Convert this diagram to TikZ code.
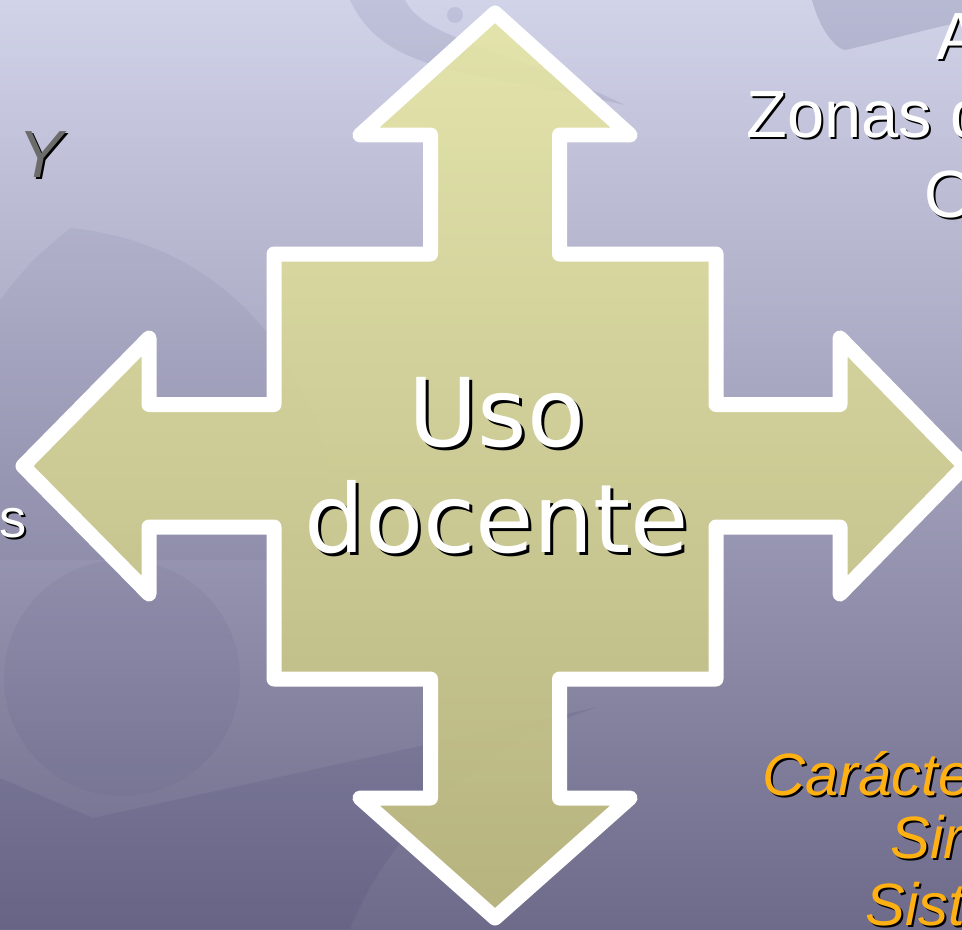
\documentclass[tikz,border=0pt]{standalone}
\usepackage{fontspec}
\setmainfont{Liberation Sans}
\newfontfamily\dejavu{DejaVu Sans}
\usepackage{tikz}
\usetikzlibrary{positioning}
\usetikzlibrary{calc}

\definecolor{bgtop}{RGB}{209,211,233}
\definecolor{bgmid}{RGB}{166,165,193}
\definecolor{bgbottom}{RGB}{110,106,138}
\definecolor{swirl}{RGB}{70,68,112}
\definecolor{crosstop}{RGB}{230,230,166}
\definecolor{crossbottom}{RGB}{190,187,126}
\definecolor{gold}{RGB}{255,176,18}
\definecolor{greyY}{RGB}{108,108,108}

\begin{document}
\begin{tikzpicture}[x=0.02cm, y=-0.02cm]
    % Styles for the slide
    \tikzstyle{cross} = [draw=white, line width=0.3cm, line join=round, top color=crosstop, bottom color=crossbottom, fill opacity=0.9, draw opacity=1]
    \tikzstyle{swoosh} = [fill=swirl, fill opacity=0.12, draw=none]
    \tikzstyle{title} = [inner sep=0pt, align=center, font=\dejavu\fontsize{54}{60.3}\selectfont]
    \tikzstyle{side} = [inner sep=0pt, font=\fontsize{38}{40}\selectfont]
    \tikzstyle{sidei} = [inner sep=0pt, font=\itshape\fontsize{34}{36}\selectfont]

    % keep the picture the size of the slide crop
    \useasboundingbox (0,0) rectangle (962,929);
    \clip (0,0) rectangle (962,929);

    % background gradient
    \shade[top color=bgtop, middle color=bgmid, bottom color=bgbottom] (0,0) rectangle (962,929);

    % background swooshes
    \fill[swoosh] (350,0) .. controls (385,75) and (470,70) .. (625,105) .. controls (500,45) and (425,40) .. (405,0) -- cycle;
    \fill[swoosh] (455,15) circle (0.16cm);
    \fill[swoosh, fill opacity=0.18] (812,0) .. controls (820,30) and (835,48) .. (845,50) .. controls (890,40) and (930,28) .. (962,22) -- (962,0) -- cycle;
    \fill[swoosh, fill opacity=0.07] (70,228) .. controls (200,240) and (300,330) .. (330,470) -- (330,560) -- (0,560) -- (0,300) .. controls (30,262) .. (70,228) -- cycle;
    \fill[swoosh, fill opacity=0.07] (122,678) circle (2.36cm);
    \fill[swoosh, fill opacity=0.15] (0,778) -- (93,818) -- (598,707) .. controls (480,745) and (390,830) .. (350,929) -- (0,929) -- cycle;

    % the four way arrow
    \path[cross] (495,13) -- (630,135) -- (559.5,135) -- (559.5,254) -- (716,254) -- (716,404.5)
        -- (840,404.5) -- (840,338) -- (965,466) -- (840,594) -- (840,527) -- (716,527)
        -- (716,679) -- (559.5,679) -- (559.5,798) -- (630,798) -- (495,918) -- (360,798)
        -- (430.5,798) -- (430.5,679) -- (274,679) -- (274,527) -- (149,527) -- (149,594)
        -- (23,466) -- (149,338) -- (149,404.5) -- (274,404.5) -- (274,254) -- (430.5,254)
        -- (430.5,135) -- (360,135) -- cycle;

    % centre label, shadow first
    \foreach \d/\c in {3/black, 0/white} {
        \node[title, text=\c] (uso\c) at ($(497,465.5) + (\d,\d)$) {Uso\\docente};
    }

    % texts cut by the edges of the slide
    \foreach \d/\c in {2/black, 0/white} {
        \node[side, anchor=base west, text=\c] (lineA\c) at ($(936,60) + (\d,\d)$) {A};
        \node[side, anchor=base west, text=\c] (zonas\c) at ($(746,138) + (\d,\d)$) {Zonas d};
        \node[side, anchor=base west, text=\c] (lineO\c) at ($(924,217) + (\d,\d)$) {O};
        \node[inner sep=0pt, font=\fontsize{31}{33}\selectfont, anchor=base east, text=\c] (letterS\c) at ($(27,537) + (\d,\d)$) {s};
    }
    \foreach \d/\c in {2/black, 0/greyY} {
        \node[side, font=\itshape\fontsize{38}{40}\selectfont, anchor=base west, text=\c] (letterY\c) at ($(18,177) + (\d,\d)$) {Y};
    }
    \foreach \d/\c in {2/black, 0/gold} {
        \node[sidei, anchor=base west, text=\c] (caracter\c) at ($(762,795) + (\d,\d)$) {Carácte};
        \node[sidei, anchor=base west, text=\c] (sir\c) at ($(890,858) + (\d,\d)$) {Sir};
        \node[sidei, anchor=base west, text=\c] (sist\c) at ($(865,925) + (\d,\d)$) {Sist};
    }
\end{tikzpicture}
\end{document}
